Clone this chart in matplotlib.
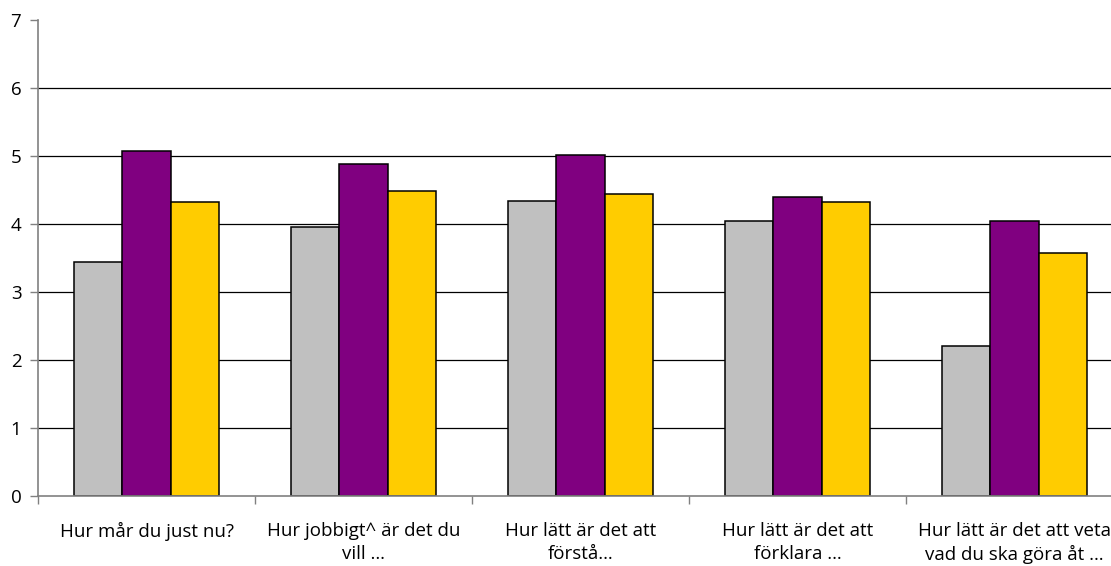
import matplotlib
matplotlib.use("Agg")
import matplotlib.pyplot as plt
import numpy as np

categories = [
    "Hur mår du just nu?",
    "Hur jobbigt^ är det du\nvill …",
    "Hur lätt är det att\nförstå…",
    "Hur lätt är det att\nförklara …",
    "Hur lätt är det att veta\nvad du ska göra åt …",
]
series_gray = [3.44, 3.95, 4.34, 4.05, 2.20]
series_purple = [5.07, 4.88, 5.02, 4.39, 4.05]
series_yellow = [4.32, 4.49, 4.44, 4.32, 3.58]
y_ticks = [0, 1, 2, 3, 4, 5, 6, 7]

plt.rcParams["font.family"] = ["Open Sans", "DejaVu Sans"]

fig = plt.figure(figsize=(11.11, 5.66), dpi=100)
ax = fig.add_axes([38 / 1111, 70 / 566, 1085 / 1111, 476 / 566])

x = np.arange(len(categories))
w = 1 / 4.5
colors = ["#C0C0C0", "#800080", "#FFCC00"]
for i, (vals, c) in enumerate(zip([series_gray, series_purple, series_yellow], colors)):
    ax.bar(x + (i - 1) * w, vals, width=w, color=c, edgecolor="black",
           linewidth=1.1, zorder=3)

for g in y_ticks[1:-1]:
    ax.axhline(g, color="black", linewidth=0.9, zorder=1)

ax.set_xlim(-0.5, len(categories) - 0.5)
ax.set_ylim(0, 7)
ax.set_yticks(y_ticks)
ax.set_xticks(x)
ax.set_xticklabels(categories, fontsize=13.5, linespacing=1.3)
ax.set_xticks(np.arange(len(categories) + 1) - 0.5, minor=True)
ax.tick_params(axis="x", which="major", length=0, pad=19)
ax.tick_params(axis="x", which="minor", length=6, color="#808080", width=1)
ax.tick_params(axis="y", length=6, color="#808080", width=1, labelsize=13.5, pad=6)

for s in ["top", "right"]:
    ax.spines[s].set_visible(False)
for s in ["left", "bottom"]:
    ax.spines[s].set_color("#808080")
    ax.spines[s].set_linewidth(1.2)
ax.spines["bottom"].set_zorder(4)

fig.savefig("out.png", dpi=100)
